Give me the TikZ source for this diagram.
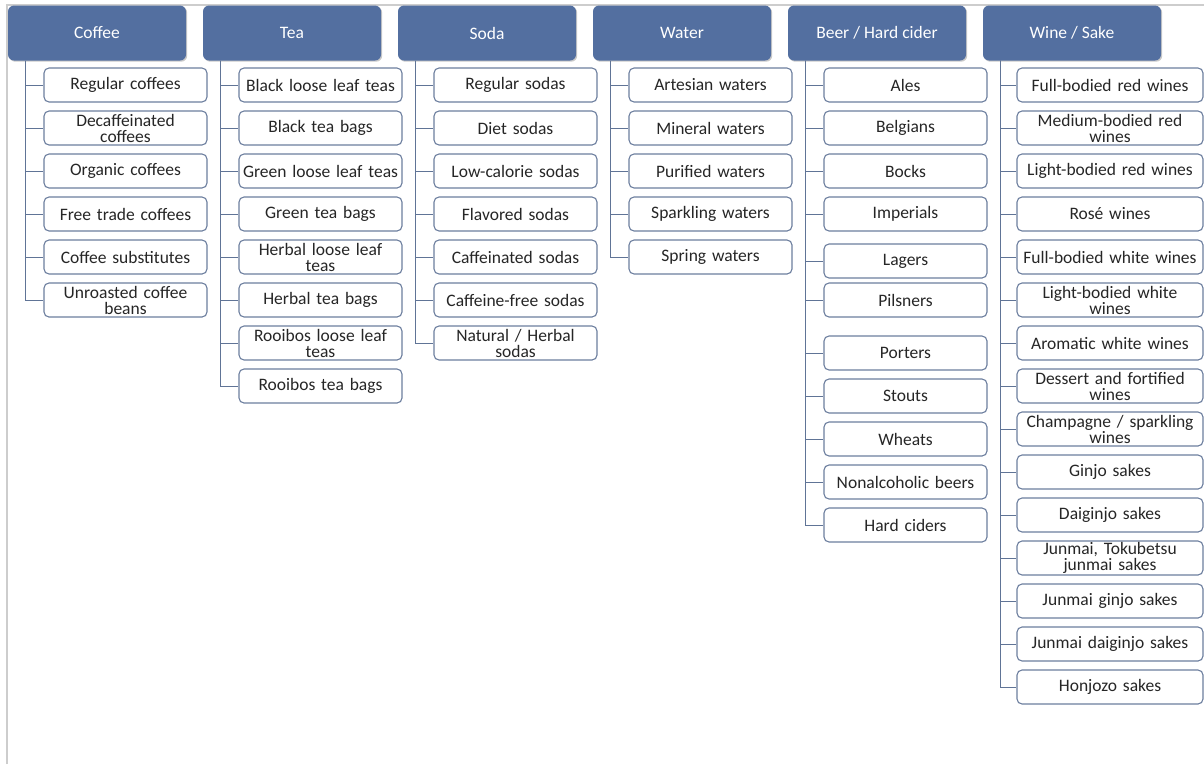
\documentclass[tikz,border=0pt]{standalone}
\usepackage{fontspec}
\usepackage{tikz}
\usetikzlibrary{shadows}
\newfontfamily\diagfont{Carlito}
\definecolor{headblue}{RGB}{83,111,160}
\definecolor{boxedge}{RGB}{108,126,158}
\definecolor{linkblue}{RGB}{96,116,150}
\definecolor{framegray}{RGB}{205,205,205}
\tikzset{
	header/.style={rectangle, rounded corners=6pt, fill=headblue, text=white,
		minimum width=178pt, minimum height=55pt, inner sep=0pt,
		font=\diagfont\fontsize{17.5}{17}\selectfont,
		drop shadow={shadow xshift=1.2pt, shadow yshift=-1.2pt, opacity=0.3, fill=black!70}},
	item/.style={rectangle, rounded corners=5pt, draw=boxedge, line width=1.1pt, fill=white,
		minimum width=163pt, minimum height=34pt, text width=163pt, inner sep=0pt,
		align=center, text=black!85, font=\diagfont\fontsize{17.5}{16}\selectfont},
	wideitem/.style={item, minimum width=186pt, text width=186pt},
	branch/.style={draw=linkblue, line width=1pt}
}

\begin{document}
\begin{tikzpicture}[x=1pt, y=-1pt]
	\useasboundingbox (0,0) rectangle (1204,764);
	% page edge
	\draw[framegray, line width=1.2pt] (7,764) -- (7,5) -- (1204,5);
	% the category heads
	\node[header] (coffee) at (97,33) {Coffee};
	\node[header] (tea) at (292,33) {Tea};
	\node[header] (soda) at (487,33) {Soda};
	\node[header] (water) at (682,33) {Water};
	\node[header] (beer) at (877,33) {Beer / Hard cider};
	\node[header] (wine) at (1072,33) {Wine / Sake};
	\foreach \h in {coffee,tea,soda,water,beer,wine}
		\coordinate (\h-t) at ([xshift=18pt]\h.south west);
	% coffee
	\foreach \t [count=\i] in {Regular coffees, Decaffeinated\\coffees, Organic coffees,
		Free trade coffees, Coffee substitutes, Unroasted coffee\\beans}
	{
		\node[item] (coffee-\i) at (125.5,42+43*\i) {\t};
		\draw[branch] (coffee-t) |- (coffee-\i.west);
	}
	% tea
	\foreach \t [count=\i] in {Black loose leaf teas, Black tea bags, Green loose leaf teas,
		Green tea bags, Herbal loose leaf\\teas, Herbal tea bags, Rooibos loose leaf\\teas,
		Rooibos tea bags}
	{
		\node[item] (tea-\i) at (320.5,42+43*\i) {\t};
		\draw[branch] (tea-t) |- (tea-\i.west);
	}
	% soda
	\foreach \t [count=\i] in {Regular sodas, Diet sodas, Low-calorie sodas, Flavored sodas,
		Caffeinated sodas, Caffeine-free sodas, Natural / Herbal\\sodas}
	{
		\node[item] (soda-\i) at (515.5,42+43*\i) {\t};
		\draw[branch] (soda-t) |- (soda-\i.west);
	}
	% water
	\foreach \t [count=\i] in {Artesian waters, Mineral waters, Purified waters,
		Sparkling waters, Spring waters}
	{
		\node[item] (water-\i) at (710.5,42+43*\i) {\t};
		\draw[branch] (water-t) |- (water-\i.west);
	}
	% beer
	\foreach \t/\y [count=\i] in {Ales/85, Belgians/128, Bocks/171, Imperials/214,
		Lagers/261, Pilsners/300, Porters/353, Stouts/396, Wheats/439,
		Nonalcoholic beers/482, Hard ciders/525}
	{
		\node[item] (beer-\i) at (905.5,\y) {\t};
		\draw[branch] (beer-t) |- (beer-\i.west);
	}
	% wine and sake
	\foreach \t [count=\i] in {Full-bodied red wines, Medium-bodied red\\wines,
		Light-bodied red wines, Rosé wines, Full-bodied white wines,
		Light-bodied white\\wines, Aromatic white wines, Dessert and fortified\\wines,
		Champagne / sparkling\\wines, Ginjo sakes, Daiginjo sakes,
		{Junmai, Tokubetsu\\junmai sakes}, Junmai ginjo sakes, Junmai daiginjo sakes,
		Honjozo sakes}
	{
		\node[wideitem] (wine-\i) at (1110,42+43*\i) {\t};
		\draw[branch] (wine-t) |- (wine-\i.west);
	}
\end{tikzpicture}
\end{document}
